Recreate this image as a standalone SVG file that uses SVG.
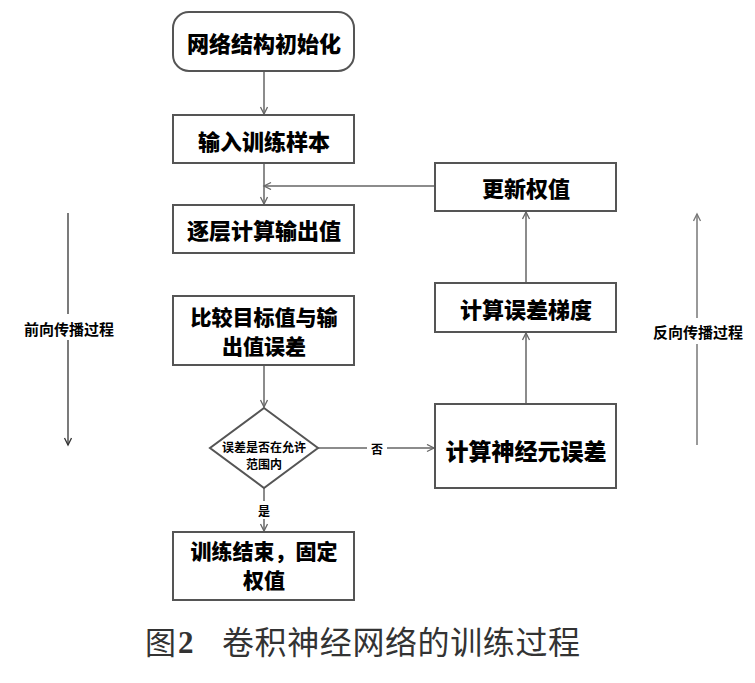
<svg xmlns="http://www.w3.org/2000/svg" width="755" height="683" viewBox="0 0 755 683">
<defs>
<marker id="ah" markerWidth="10" markerHeight="10" refX="8" refY="4" orient="auto" markerUnits="userSpaceOnUse">
<path d="M1,0.5 L8,4 L1,7.5" fill="none" stroke="#666" stroke-width="1.3"/>
</marker>
<marker id="ahd" markerWidth="10" markerHeight="10" refX="8" refY="4" orient="auto" markerUnits="userSpaceOnUse">
<path d="M1,0.5 L8,4 L1,7.5" fill="none" stroke="#333" stroke-width="1.3"/>
</marker>
<marker id="ahg" markerWidth="10" markerHeight="10" refX="8" refY="4" orient="auto" markerUnits="userSpaceOnUse">
<path d="M1,0.5 L8,4 L1,7.5" fill="none" stroke="#777" stroke-width="1.3"/>
</marker>
</defs>
<style>
.box{fill:#fff;stroke:#555;stroke-width:2}
.t{font-family:"Noto Sans CJK SC","Noto Sans",sans-serif;font-weight:900;font-size:22px;fill:#000;text-anchor:middle;dominant-baseline:central}
.t2{font-size:21px}
.ts{font-family:"Noto Sans CJK SC","Noto Sans",sans-serif;font-weight:700;font-size:12px;fill:#000;text-anchor:middle;dominant-baseline:central}
.tl{font-family:"Noto Sans CJK SC","Noto Sans",sans-serif;font-weight:700;font-size:15px;fill:#000;text-anchor:middle;dominant-baseline:central}
.c{fill:none;stroke:#666;stroke-width:1.5}
</style>
<rect width="755" height="683" fill="#fff"/>
<g id="connectors">
<line class="c" x1="264" y1="71" x2="264" y2="114" marker-end="url(#ah)"/>
<line class="c" x1="264" y1="163" x2="264" y2="204" marker-end="url(#ah)"/>
<polyline class="c" points="435,186 264,186" marker-end="url(#ah)"/>
<line class="c" x1="264" y1="365" x2="264" y2="407" marker-end="url(#ah)"/>
<line class="c" x1="264" y1="488" x2="264" y2="531" marker-end="url(#ah)"/>
<line class="c" x1="317" y1="448" x2="434" y2="448" marker-end="url(#ah)"/>
<line class="c" x1="526" y1="404" x2="526" y2="333" marker-end="url(#ah)"/>
<line class="c" x1="526" y1="283" x2="526" y2="212" marker-end="url(#ah)"/>
<rect x="254" y="501" width="20" height="18" fill="#fff"/>
<text class="ts" x="264" y="510">是</text>
<rect x="367" y="439" width="20" height="18" fill="#fff"/>
<text class="ts" x="377" y="448">否</text>
</g>
<g id="forward">
<line x1="68" y1="213" x2="68" y2="445" stroke="#333" stroke-width="1.3" marker-end="url(#ahd)"/>
<rect x="20" y="314" width="98" height="26" fill="#fff"/>
<text class="tl" x="69" y="328">前向传播过程</text>
</g>
<g id="backward">
<line x1="697" y1="445" x2="697" y2="214" stroke="#777" stroke-width="1.5" marker-end="url(#ahg)"/>
<rect x="650" y="318" width="96" height="26" fill="#fff"/>
<text class="tl" x="698" y="331">反向传播过程</text>
</g>
<g id="n1">
<rect class="box" x="173" y="12" width="181" height="59" rx="16"/>
<text class="t" x="264" y="42">网络结构初始化</text>
</g>
<g id="n2">
<rect class="box" x="173" y="115" width="181" height="48"/>
<text class="t" x="264" y="140">输入训练样本</text>
</g>
<g id="n3">
<rect class="box" x="173" y="205" width="181" height="48"/>
<text class="t" x="264" y="229">逐层计算输出值</text>
</g>
<g id="n4">
<rect class="box" x="173" y="296" width="181" height="69"/>
<text class="t t2" x="264" y="316">比较目标值与输</text>
<text class="t t2" x="264" y="345">出值误差</text>
</g>
<g id="n5">
<polygon class="box" points="264,408 318,448 264,488 210,448"/>
<text class="ts" x="264" y="446">误差是否在允许</text>
<text class="ts" x="264" y="463">范围内</text>
</g>
<g id="n6">
<rect class="box" x="173" y="532" width="181" height="68"/>
<text class="t t2" x="264" y="550">训练结束，固定</text>
<text class="t t2" x="264" y="579">权值</text>
</g>
<g id="n7">
<rect class="box" x="435" y="163" width="181" height="48"/>
<text class="t" x="526" y="187">更新权值</text>
</g>
<g id="n8">
<rect class="box" x="435" y="283" width="181" height="49"/>
<text class="t" x="526" y="308">计算误差梯度</text>
</g>
<g id="n9">
<rect class="box" x="435" y="404" width="181" height="84"/>
<text class="t" x="526" y="450" style="font-size:23px">计算神经元误差</text>
</g>
<g id="caption">
<text x="145" y="654" font-family="'Noto Sans CJK SC',sans-serif" font-size="31" fill="#333">图</text>
<text x="178" y="653" font-family="'Liberation Serif',serif" font-weight="bold" font-size="31" fill="#333">2</text>
<text x="222" y="654" font-family="'Noto Sans CJK SC',sans-serif" font-size="32" fill="#333" textLength="358">卷积神经网络的训练过程</text>
</g>
</svg>
